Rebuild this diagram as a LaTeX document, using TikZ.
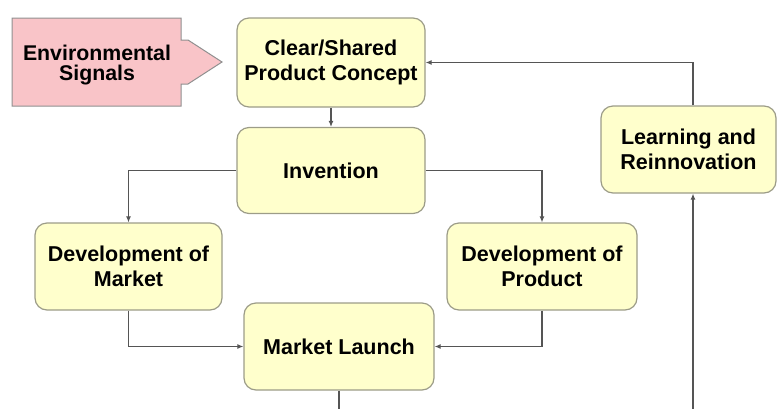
\documentclass[tikz,border=0pt]{standalone}
\usepackage{fontspec}
\setmainfont{Liberation Sans}
\usetikzlibrary{arrows.meta}
\definecolor{boxfill}{HTML}{FFFFCC}
\definecolor{boxline}{HTML}{9C9C88}
\definecolor{pinkfill}{HTML}{F9C4C8}
\definecolor{pinkline}{HTML}{909090}
\definecolor{linkgray}{HTML}{555555}
\begin{document}
\begin{tikzpicture}[x=1pt,y=-1pt,
    stage/.style={draw=boxline, fill=boxfill, line width=1.2pt, rounded corners=12pt,
      align=center, inner sep=0pt, font=\bfseries\fontsize{21.5}{25}\selectfont},
    link/.style={draw=linkgray, line width=1.1pt, -{Latex[length=6pt,width=5pt]}},
    plainlink/.style={draw=linkgray, line width=1.1pt}]
        \useasboundingbox (0,0) rectangle (777,408);

        % signal arrow
        \draw[draw=pinkline, fill=pinkfill, line width=1pt]
            (12,18) -- (181,18) -- (181,40) -- (188,40) -- (222,62) -- (188,84)
            -- (181,84) -- (181,106) -- (12,106) -- cycle;
        \node[align=center, font=\bfseries\fontsize{21.3}{20}\selectfont] (env) at (97,65) {Environmental\\Signals};

        \node[stage, minimum width=188pt, minimum height=89pt] (concept)    at (331,62.5)  {Clear/Shared\\Product Concept};
        \node[stage, minimum width=188pt, minimum height=86pt] (invention)  at (331,170.5) {Invention};
        \node[stage, minimum width=187pt, minimum height=87pt] (devmarket)  at (128.5,266.5) {Development of\\Market};
        \node[stage, minimum width=190pt, minimum height=87pt] (devproduct) at (542,266.5) {Development of\\Product};
        \node[stage, minimum width=190pt, minimum height=87pt] (launch)     at (339,346.5) {Market Launch};
        \node[stage, minimum width=175pt, minimum height=87pt] (learning)   at (688.5,149.5) {Learning and\\Reinnovation};

        \coordinate (launchout) at (339,410);
        \coordinate (learnin)   at (693,410);

        \draw[link] (concept) -- (invention);
        \draw[link] (invention.west) -| (devmarket.north);
        \draw[link] (invention.east) -| (devproduct.north);
        \draw[link] (devmarket.south) |- (launch.west);
        \draw[link] (devproduct.south) |- (launch.east);
        \draw[plainlink] (launch.south) -- (launchout);
        \draw[link] (learnin) -- (learnin |- learning.south);
        \draw[link] (learnin |- learning.north) |- (concept.east);
\end{tikzpicture}
\end{document}
